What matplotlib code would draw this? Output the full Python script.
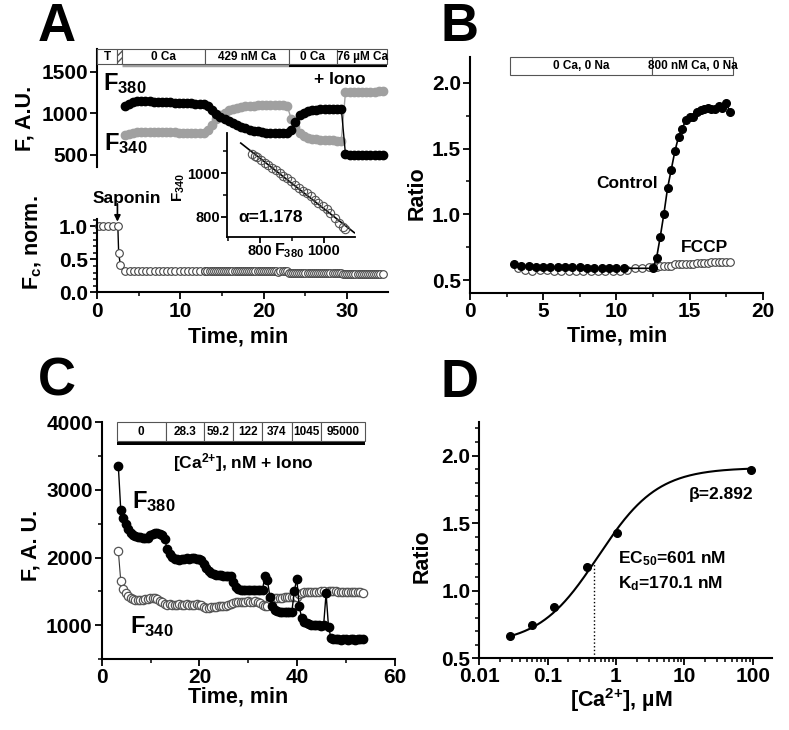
import matplotlib
matplotlib.use('Agg')
import matplotlib.pyplot as plt
from matplotlib.patches import Rectangle
from matplotlib.ticker import MultipleLocator, LogLocator, NullFormatter, FixedLocator
import numpy as np

plt.rcParams['font.family'] = ['Liberation Sans', 'DejaVu Sans']
plt.rcParams['font.weight'] = 'bold'
plt.rcParams['mathtext.fontset'] = 'custom'
plt.rcParams['mathtext.rm'] = 'Liberation Sans:bold'
plt.rcParams['mathtext.it'] = 'Liberation Sans:bold'
plt.rcParams['mathtext.bf'] = 'Liberation Sans:bold'
plt.rcParams['mathtext.default'] = 'rm'

# ---- panel A: raw F340 / F380 traces (sampled every 0.5 min from 3.3 min)
a_t0, a_dt = 3.3, 0.5
a_f380 = [1088, 1115, 1135, 1145, 1148, 1147, 1145, 1142, 1140, 1138,
          1135, 1132, 1130, 1128, 1125, 1122, 1120, 1118, 1115, 1112,
          1090, 1045, 995, 960, 930, 905, 878, 855, 835, 818,
          803, 792, 783, 775, 768, 764, 762, 760, 759, 760,
          800, 900, 975, 1010, 1028, 1038, 1044, 1048, 1051, 1053,
          1055, 1057, 1058, 505, 502, 500, 500, 501, 500, 500,
          499, 500, 500]
a_f340 = [740, 755, 765, 772, 775, 776, 776, 775, 774, 773,
          772, 771, 770, 769, 768, 767, 765, 763, 762, 765,
          800, 865, 930, 975, 1010, 1035, 1055, 1068, 1078, 1085,
          1090, 1094, 1097, 1099, 1100, 1100, 1100, 1098, 1096, 1094,
          930, 830, 765, 725, 705, 693, 686, 681, 678, 675,
          673, 672, 671, 1255, 1258, 1260, 1261, 1262, 1262, 1263,
          1263, 1264, 1264]

# solution bar of panel A
a_bar_edges = [0, 2.4, 3.0, 13.0, 23.0, 28.8, 34.8]
a_bar_labels = ['T', '', '0 Ca', '429 nM Ca', '0 Ca', '76 \u00b5M Ca']

# Fc normalised
fc_early_t = [0.2, 0.7, 1.3, 1.9, 2.5, 2.6, 2.8]
fc_early = [1.0, 1.0, 1.0, 1.0, 1.0, 0.59, 0.42]
fc_sparse_t0 = 3.4     # every 0.5 min
fc_sparse = [0.33, 0.33, 0.33, 0.33, 0.33, 0.33, 0.33, 0.33, 0.33, 0.33,
             0.33, 0.33, 0.33, 0.33, 0.33, 0.33, 0.33, 0.33, 0.33, 0.33]
fc_dense_t0 = 13.0     # every 0.25 min
fc_dense = [0.33, 0.33, 0.32, 0.33, 0.32, 0.32, 0.33, 0.32, 0.32, 0.32,
            0.33, 0.32, 0.32, 0.32, 0.32, 0.33, 0.32, 0.32, 0.32, 0.32,
            0.32, 0.32, 0.33, 0.32, 0.32, 0.32, 0.32, 0.32, 0.32, 0.32,
            0.32, 0.32, 0.32, 0.32, 0.32, 0.31, 0.32, 0.32, 0.32, 0.32,
            0.29, 0.29, 0.29, 0.29, 0.29, 0.29, 0.29, 0.29, 0.29, 0.29,
            0.29, 0.29, 0.29, 0.29, 0.29, 0.29, 0.29, 0.29, 0.29, 0.29,
            0.29, 0.29, 0.29, 0.29, 0.29, 0.29, 0.28, 0.28, 0.28, 0.28,
            0.28, 0.28, 0.28, 0.28, 0.28, 0.28, 0.28, 0.28, 0.28, 0.28,
            0.28, 0.28, 0.28, 0.28, 0.28, 0.28]

# inset F340 vs F380
in_f380 = [774, 784, 792, 802, 816, 826, 838, 850, 862, 873, 883, 896, 909,
           922, 933, 946, 958, 972, 982, 996, 1008, 1019, 1034, 1048, 1060, 1066]
in_f340 = [1085, 1077, 1071, 1059, 1047, 1036, 1024, 1014, 999, 986, 976, 964, 946,
           931, 920, 908, 896, 877, 865, 850, 835, 820, 794, 771, 753, 744]
in_fit_range = (740, 1095)

# ---- panel B
b_ctrl_t = [3.0, 3.5, 4.0, 4.5, 5.0, 5.5, 6.0, 6.5, 7.0, 7.5, 8.0, 8.5, 9.0, 9.5,
            10.0, 10.5, 12.5, 12.75, 13.0, 13.25, 13.5, 13.75, 14.0, 14.25, 14.5,
            14.75, 15.0, 15.25, 15.5, 15.75, 16.0, 16.25, 16.5, 16.75, 17.0,
            17.25, 17.5, 17.75]
b_ctrl = [0.62, 0.61, 0.61, 0.60, 0.60, 0.60, 0.60, 0.60, 0.60, 0.60, 0.59, 0.59,
          0.59, 0.59, 0.59, 0.59, 0.59, 0.67, 0.83, 1.005, 1.20, 1.34, 1.48, 1.59,
          1.65, 1.72, 1.74, 1.74, 1.78, 1.79, 1.80, 1.81, 1.80, 1.80, 1.82, 1.81,
          1.85, 1.78]
b_fccp_t = [3.25, 3.75, 4.25, 4.75, 5.25, 5.75, 6.25, 6.75, 7.25, 7.75, 8.25, 8.75,
            9.25, 9.75, 10.25, 10.75, 11.25, 11.75, 12.25, 12.5, 12.75, 13.0, 13.25,
            13.5, 13.75, 14.0, 14.25, 14.5, 14.75, 15.0, 15.25, 15.5, 15.75, 16.0,
            16.25, 16.5, 16.75, 17.0, 17.25, 17.5, 17.75]
b_fccp = [0.59, 0.58, 0.57, 0.58, 0.58, 0.57, 0.57, 0.57, 0.57, 0.57, 0.57, 0.57,
          0.57, 0.57, 0.57, 0.58, 0.59, 0.59, 0.60, 0.60, 0.60, 0.61, 0.61, 0.61,
          0.61, 0.62, 0.62, 0.62, 0.62, 0.62, 0.62, 0.63, 0.63, 0.63, 0.63, 0.64,
          0.64, 0.64, 0.64, 0.64, 0.64]
b_bar_edges = [2.7, 12.45, 18.0]
b_bar_labels = ['0 Ca, 0 Na', '800 nM Ca, 0 Na']

# ---- panel C (sampled every 0.5 min from 3.4 min)
c_t0, c_dt = 3.4, 0.5
c_f380 = [3355, 2700, 2580, 2500, 2420, 2370, 2335, 2315, 2310, 2305,
          2295, 2285, 2290, 2330, 2355, 2360, 2360, 2350, 2335, 2270,
          2120, 2050, 2010, 1980, 1975, 1970, 1980, 1985, 1990, 1985,
          1990, 1995, 1985, 1975, 1960, 1900, 1850, 1800, 1770, 1750,
          1745, 1740, 1735, 1730, 1730, 1725, 1720, 1640, 1560, 1535,
          1525, 1520, 1520, 1520, 1520, 1520, 1520, 1520, 1520, 1525,
          1730, 1670, 1420, 1280, 1220, 1205, 1200, 1200, 1200, 1200,
          1195, 1200, 1500, 1690, 1280, 1110, 1050, 1030, 1015, 1010,
          1005, 1000, 1000, 995, 1000, 1470, 975, 810, 795, 790,
          790, 788, 790, 790, 788, 790, 790, 788, 790, 790,
          790]
c_f340 = [2100, 1650, 1530, 1470, 1430, 1400, 1385, 1375, 1375, 1370,
          1375, 1380, 1380, 1395, 1400, 1395, 1380, 1360, 1340, 1310,
          1300, 1310, 1300, 1305, 1300, 1310, 1305, 1300, 1310, 1305,
          1300, 1305, 1310, 1305, 1295, 1270, 1255, 1255, 1265, 1270,
          1275, 1280, 1280, 1285, 1290, 1295, 1310, 1335, 1345, 1350,
          1350, 1350, 1350, 1352, 1350, 1350, 1352, 1345, 1330, 1300,
          1280, 1290, 1380, 1395, 1400, 1400, 1405, 1405, 1410, 1410,
          1410, 1410, 1415, 1420, 1460, 1480, 1485, 1490, 1490, 1490,
          1495, 1495, 1495, 1500, 1500, 1480, 1500, 1500, 1500, 1500,
          1495, 1495, 1495, 1490, 1490, 1490, 1490, 1485, 1485, 1485,
          1480]
c_bar_edges = [3.06, 13.06, 20.9, 26.9, 32.8, 38.9, 44.9, 53.9]
c_bar_labels = ['0', '28.3', '59.2', '122', '374', '1045', '95000']

# ---- panel D
d_ca = [0.0283, 0.0592, 0.122, 0.374, 1.045, 95.0]
d_ratio = [0.664, 0.746, 0.88, 1.175, 1.426, 1.894]
d_rmin, d_rmax, d_ec50, d_hill = 0.60, 1.91, 0.55, 1.0
d_dot_x = 0.48

W, H = 789, 730
TICK_FS = 15
LABEL_FS = 15.5
LETTER_FS = 38
fig = plt.figure(figsize=(W / 100, H / 100), dpi=100)


def box(x0, y0, x1, y1):
    return [x0 / W, 1 - y1 / H, (x1 - x0) / W, (y1 - y0) / H]


def ftext(x, y, s, **kw):
    kw.setdefault('ha', 'center')
    kw.setdefault('va', 'center')
    fig.text(x / W, 1 - y / H, s, **kw)


def style(ax, lw=1.5, fs=TICK_FS):
    for side in ('top', 'right'):
        ax.spines[side].set_visible(False)
    for side in ('left', 'bottom'):
        ax.spines[side].set_linewidth(lw)
    ax.tick_params(which='major', direction='out', length=5, width=1.3,
                   labelsize=fs, pad=1.5)
    ax.tick_params(which='minor', direction='out', length=3, width=1.1)
    ax.patch.set_alpha(0)


def draw_bar(ax, edges, labels, y0, y1, fs=8, hatch_idx=None):
    for i, lab in enumerate(labels):
        ax.add_patch(Rectangle((edges[i], y0), edges[i + 1] - edges[i], y1 - y0,
                               facecolor='white', edgecolor='#555555', lw=0.8,
                               hatch='/////' if i == hatch_idx else None,
                               clip_on=False, zorder=3))
        if lab:
            ax.text((edges[i] + edges[i + 1]) / 2, (y0 + y1) / 2, lab,
                    ha='center', va='center', fontsize=fs, zorder=4)


# ================= panel A, top traces
axA1 = fig.add_axes(box(97, 49.3, 388, 167))
style(axA1)
axA1.spines['bottom'].set_visible(False)
axA1.set_xticks([])
axA1.set_xlim(0, 34.9)
axA1.set_ylim(353, 1773)
axA1.yaxis.set_major_locator(MultipleLocator(500))
ta = a_t0 + a_dt * np.arange(len(a_f380))
axA1.plot(ta, a_f340, '-o', color='#a0a0a0', ms=6, lw=1, mec='#a0a0a0', clip_on=False)
axA1.plot(ta, a_f380, '-o', color='black', ms=6, lw=1, clip_on=False)
draw_bar(axA1, a_bar_edges, a_bar_labels, 1596, 1773, fs=8.5, hatch_idx=1)
axA1.plot([a_bar_edges[2], a_bar_edges[4]], [1587, 1587], color='#a0a0a0', lw=2.5,
          solid_capstyle='butt')
axA1.plot([a_bar_edges[4], a_bar_edges[6]], [1585, 1585], color='black', lw=3,
          solid_capstyle='butt')

# ================= panel A, Fc
axA2 = fig.add_axes(box(97, 219, 388, 292.5))
style(axA2)
axA2.set_xlim(0, 34.9)
axA2.set_ylim(0, 1.11)
axA2.xaxis.set_major_locator(MultipleLocator(10))
axA2.xaxis.set_minor_locator(MultipleLocator(5))
axA2.yaxis.set_major_locator(MultipleLocator(0.5))
axA2.yaxis.set_minor_locator(MultipleLocator(0.1))
axA2.yaxis.set_major_formatter(matplotlib.ticker.FormatStrFormatter('%.1f'))
fc_t = np.concatenate([fc_early_t,
                       fc_sparse_t0 + 0.5 * np.arange(len(fc_sparse)),
                       fc_dense_t0 + 0.25 * np.arange(len(fc_dense))])
fc_v = np.concatenate([fc_early, fc_sparse, fc_dense])
axA2.plot(fc_t, fc_v, '-o', color='black', lw=1, ms=5.5, mfc='white', mec='#444444',
          mew=0.8, clip_on=False)
axA2.annotate('', xy=(2.45, 1.07), xytext=(2.45, 1.34),
              arrowprops=dict(arrowstyle='-|>', color='black', lw=1.2,
                              shrinkA=0, shrinkB=0, mutation_scale=9),
              annotation_clip=False)

# ================= inset
axIn = fig.add_axes(box(227, 133, 355, 237))
style(axIn, lw=1.3, fs=10.5)
axIn.set_xlim(697, 1097)
axIn.set_ylim(709, 1182)
axIn.xaxis.set_major_locator(MultipleLocator(200))
axIn.xaxis.set_minor_locator(MultipleLocator(100))
axIn.yaxis.set_major_locator(MultipleLocator(200))
axIn.yaxis.set_minor_locator(MultipleLocator(100))
axIn.tick_params(which='major', length=4, pad=1)
k, b0 = np.polyfit(in_f380, in_f340, 1)
fx = np.array(in_fit_range)
axIn.plot(fx, k * fx + b0, color='black', lw=1.2)
axIn.plot(in_f380, in_f340, 'o', ms=6, mfc='none', mec='#555555', mew=0.8)

ftext(57, 27, 'A', fontsize=LETTER_FS)
ftext(25, 118, 'F, A.U.', fontsize=LABEL_FS, rotation=90)
ftext(33, 243, 'F$_{c}$, norm.', fontsize=LABEL_FS, rotation=90)
ftext(238, 337, 'Time, min', fontsize=LABEL_FS)
ftext(103, 90, 'F$_{380}$', fontsize=17, ha='left', va='baseline')
ftext(104, 150, 'F$_{340}$', fontsize=17, ha='left', va='baseline')
ftext(340, 80, '+ Iono', fontsize=12.5)
ftext(127, 199, 'Saponin', fontsize=12.5)
ftext(238, 218, '\u03b1=1.178', fontsize=12.5, ha='left')
ftext(179, 188, 'F$_{340}$', fontsize=11, rotation=90)
ftext(289, 251, 'F$_{380}$', fontsize=11.5)

# ================= panel B
axB = fig.add_axes(box(470, 56.5, 762.7, 293.3))
style(axB)
axB.set_xlim(0, 20)
axB.set_ylim(0.4, 2.2)
axB.xaxis.set_major_locator(MultipleLocator(5))
axB.xaxis.set_minor_locator(MultipleLocator(2.5))
axB.yaxis.set_major_locator(MultipleLocator(0.5))
axB.yaxis.set_minor_locator(MultipleLocator(0.25))
axB.yaxis.set_major_formatter(matplotlib.ticker.FormatStrFormatter('%.1f'))
axB.plot(b_fccp_t, b_fccp, 'o', ms=5.5, mfc='white', mec='#444444', mew=0.8)
axB.plot(b_ctrl_t, b_ctrl, '-o', color='black', ms=5.5, lw=1.2)
draw_bar(axB, b_bar_edges, b_bar_labels, 2.06, 2.2, fs=8.5)
ftext(459, 27, 'B', fontsize=LETTER_FS)
ftext(417, 193, 'Ratio', fontsize=LABEL_FS, rotation=90)
ftext(617, 336, 'Time, min', fontsize=LABEL_FS)
ftext(627, 183, 'Control', fontsize=12.5)
ftext(705, 247, 'FCCP', fontsize=12.5)

# ================= panel C
axC = fig.add_axes(box(101.7, 422.3, 395, 659))
style(axC)
axC.set_xlim(0, 60)
axC.set_ylim(500, 4000)
axC.xaxis.set_major_locator(MultipleLocator(20))
axC.xaxis.set_minor_locator(MultipleLocator(10))
axC.yaxis.set_major_locator(MultipleLocator(1000))
axC.yaxis.set_minor_locator(MultipleLocator(500))
tc = c_t0 + c_dt * np.arange(len(c_f380))
axC.plot(tc, c_f340, '-o', color='#333333', lw=0.8, ms=6, mfc='white',
         mec='#555555', mew=0.9)
axC.plot(tc, c_f380, '-o', color='black', lw=1, ms=6)
draw_bar(axC, c_bar_edges, c_bar_labels, 3724, 4000, fs=8.5)
axC.add_patch(Rectangle((c_bar_edges[0], 3665), c_bar_edges[-1] - c_bar_edges[0],
                        59, facecolor='black', edgecolor='none'))
ftext(57, 382, 'C', fontsize=LETTER_FS)
ftext(31, 545, 'F, A. U.', fontsize=LABEL_FS, rotation=90)
ftext(238, 697, 'Time, min', fontsize=LABEL_FS)
ftext(132, 508, 'F$_{380}$', fontsize=17, ha='left', va='baseline')
ftext(130, 633, 'F$_{340}$', fontsize=17, ha='left', va='baseline')
ftext(243, 463, '[Ca$^{2{+}}$], nM + Iono', fontsize=12.5)

# ================= panel D
axD = fig.add_axes(box(479.3, 421.7, 771.7, 658.3))
style(axD)
axD.set_xscale('log')
axD.set_xlim(0.01, 190)
axD.set_ylim(0.5, 2.25)
axD.xaxis.set_major_locator(FixedLocator([0.01, 0.1, 1, 10, 100]))
axD.xaxis.set_major_formatter(matplotlib.ticker.FixedFormatter(['0.01', '0.1', '1', '10', '100']))
axD.xaxis.set_minor_locator(LogLocator(base=10, subs=np.arange(2, 10)))
axD.xaxis.set_minor_formatter(NullFormatter())
axD.yaxis.set_major_locator(MultipleLocator(0.5))
axD.yaxis.set_minor_locator(MultipleLocator(0.1))
axD.yaxis.set_major_formatter(matplotlib.ticker.FormatStrFormatter('%.1f'))


def hill(x):
    return d_rmin + (d_rmax - d_rmin) * x ** d_hill / (x ** d_hill + d_ec50 ** d_hill)


xs = np.logspace(np.log10(d_ca[0]), np.log10(d_ca[-1]), 300)
axD.plot(xs, hill(xs), color='black', lw=1.5)
axD.plot([d_dot_x, d_dot_x], [0.5, hill(d_dot_x)], color='black', lw=1, ls=':')
axD.plot(d_ca, d_ratio, 'o', color='black', ms=5.5)
ftext(459, 383, 'D', fontsize=LETTER_FS)
ftext(422, 556, 'Ratio', fontsize=LABEL_FS, rotation=90)
ftext(621, 700, '[Ca$^{2{+}}$], \u00b5M', fontsize=LABEL_FS)
ftext(721, 495, '\u03b2=2.892', fontsize=12.5)
ftext(618, 559, 'EC$_{50}$=601 nM', fontsize=12.5, ha='left')
ftext(618, 584, 'K$_{d}$=170.1 nM', fontsize=12.5, ha='left')

fig.savefig('out.png', dpi=100)
